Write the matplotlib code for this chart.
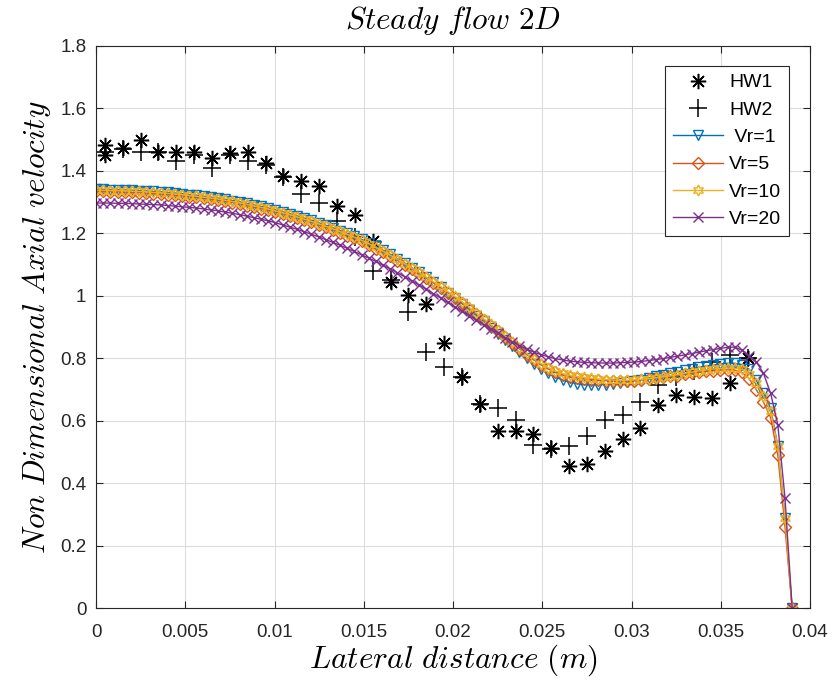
import numpy as np
import matplotlib.pyplot as plt

plt.rcParams['font.family'] = ['Liberation Sans', 'DejaVu Sans']
plt.rcParams['mathtext.fontset'] = 'cm'

# experimental data (hot wire)
hw1_x = [0.0005, 0.0005, 0.0015, 0.0025, 0.0035, 0.0045, 0.0055, 0.0065, 0.0075, 0.0085,
         0.0095, 0.0105, 0.0115, 0.0125, 0.0135, 0.0145, 0.0155, 0.0165, 0.0175, 0.0185,
         0.0195, 0.0205, 0.0215, 0.0225, 0.0235, 0.0245, 0.0255, 0.0265, 0.0275, 0.0285,
         0.0295, 0.0305, 0.0315, 0.0325, 0.0335, 0.0345, 0.0355, 0.0365]
hw1_y = [1.483, 1.451, 1.473, 1.499, 1.460, 1.460, 1.460, 1.441, 1.457, 1.460,
         1.425, 1.383, 1.367, 1.351, 1.287, 1.259, 1.175, 1.044, 1.003, 0.974,
         0.849, 0.740, 0.654, 0.567, 0.567, 0.558, 0.513, 0.455, 0.462, 0.503,
         0.542, 0.577, 0.650, 0.683, 0.676, 0.673, 0.721, 0.801]

hw2_x = [0.0005, 0.0015, 0.0025, 0.0035, 0.0045, 0.0055, 0.0065, 0.0075, 0.0085, 0.0095,
         0.0105, 0.0115, 0.0125, 0.0135, 0.0145, 0.0155, 0.0165, 0.0175, 0.0185, 0.0195,
         0.0205, 0.0215, 0.0225, 0.0235, 0.0245, 0.0255, 0.0265, 0.0275, 0.0285, 0.0295,
         0.0305, 0.0315, 0.0325, 0.0335, 0.0345, 0.0355, 0.0365]
hw2_y = [1.46, 1.47, 1.46, 1.46, 1.43, 1.45, 1.41, 1.45, 1.43, 1.42,
         1.38, 1.325, 1.297, 1.24, 1.188, 1.079, 1.05, 0.948, 0.820, 0.772,
         0.74, 0.655, 0.641, 0.603, 0.523, 0.51, 0.519, 0.551, 0.603, 0.619,
         0.660, 0.715, 0.74, 0.76, 0.788, 0.811, 0.80]

# simulations, 98 stations from 0 to 0.039 m
vr1 = [1.341, 1.341, 1.340, 1.340, 1.339, 1.338, 1.337, 1.336, 1.334, 1.333, 1.331, 1.329, 1.327,
       1.324, 1.322, 1.319, 1.316, 1.313, 1.309, 1.305, 1.301, 1.296, 1.291, 1.286, 1.281, 1.275,
       1.269, 1.263, 1.256, 1.249, 1.242, 1.234, 1.226, 1.218, 1.209, 1.200, 1.191, 1.181,
       1.170, 1.158, 1.146, 1.133, 1.119, 1.105, 1.090, 1.075, 1.059, 1.043, 1.027, 1.010, 0.993,
       0.975, 0.956, 0.937, 0.918, 0.898, 0.878, 0.858, 0.838, 0.819, 0.800, 0.782, 0.766,
       0.752, 0.740, 0.731, 0.724, 0.719, 0.716, 0.715, 0.715, 0.716, 0.718, 0.721, 0.724, 0.728,
       0.732, 0.737, 0.742, 0.747, 0.752, 0.757, 0.762, 0.767, 0.771, 0.775, 0.779, 0.782, 0.784, 0.784,
       0.780, 0.765, 0.73, 0.69, 0.64, 0.52, 0.29, 0.0]
vr5 = [1.334, 1.334, 1.333, 1.333, 1.332, 1.331, 1.330, 1.329, 1.327, 1.326, 1.324, 1.322, 1.320,
       1.317, 1.315, 1.312, 1.309, 1.306, 1.302, 1.298, 1.294, 1.289, 1.284, 1.279, 1.274, 1.268,
       1.262, 1.256, 1.249, 1.242, 1.235, 1.227, 1.219, 1.211, 1.202, 1.193, 1.184, 1.174,
       1.163, 1.151, 1.139, 1.126, 1.113, 1.099, 1.085, 1.071, 1.056, 1.041, 1.026, 1.010, 0.994,
       0.977, 0.959, 0.941, 0.923, 0.905, 0.886, 0.867, 0.848, 0.830, 0.812, 0.795, 0.779,
       0.766, 0.755, 0.747, 0.741, 0.737, 0.734, 0.732, 0.730, 0.729, 0.728, 0.728, 0.728, 0.729,
       0.731, 0.733, 0.736, 0.739, 0.742, 0.745, 0.749, 0.752, 0.755, 0.758, 0.760, 0.762, 0.763, 0.762,
       0.755, 0.735, 0.70, 0.66, 0.61, 0.49, 0.26, 0.0]
vr10 = [1.338, 1.338, 1.337, 1.337, 1.336, 1.335, 1.334, 1.333, 1.331, 1.330, 1.328, 1.326, 1.324,
        1.321, 1.319, 1.316, 1.313, 1.310, 1.306, 1.302, 1.298, 1.293, 1.288, 1.283, 1.278, 1.272,
        1.266, 1.260, 1.253, 1.246, 1.239, 1.231, 1.223, 1.215, 1.206, 1.197, 1.188, 1.178,
        1.167, 1.155, 1.143, 1.130, 1.117, 1.103, 1.089, 1.075, 1.060, 1.045, 1.030, 1.014, 0.998,
        0.981, 0.963, 0.945, 0.927, 0.909, 0.890, 0.871, 0.852, 0.834, 0.816, 0.799, 0.783,
        0.770, 0.760, 0.752, 0.746, 0.742, 0.739, 0.736, 0.734, 0.732, 0.731, 0.730, 0.730, 0.731,
        0.733, 0.735, 0.738, 0.741, 0.744, 0.748, 0.752, 0.756, 0.760, 0.763, 0.766, 0.768, 0.769, 0.768,
        0.765, 0.75, 0.72, 0.68, 0.63, 0.52, 0.29, 0.0]
vr20 = [1.297, 1.297, 1.297, 1.296, 1.296, 1.295, 1.294, 1.293, 1.292, 1.291, 1.289, 1.287, 1.285,
        1.283, 1.281, 1.278, 1.275, 1.272, 1.268, 1.264, 1.260, 1.255, 1.250, 1.245, 1.240, 1.234,
        1.227, 1.220, 1.213, 1.205, 1.197, 1.189, 1.180, 1.171, 1.162, 1.152, 1.142, 1.131,
        1.121, 1.110, 1.098, 1.086, 1.074, 1.061, 1.048, 1.035, 1.021, 1.007, 0.993, 0.979, 0.964,
        0.950, 0.936, 0.922, 0.908, 0.894, 0.880, 0.866, 0.853, 0.841, 0.830, 0.820, 0.812,
        0.805, 0.799, 0.795, 0.791, 0.789, 0.787, 0.786, 0.785, 0.785, 0.785, 0.786, 0.787, 0.788,
        0.790, 0.793, 0.796, 0.799, 0.803, 0.807, 0.811, 0.815, 0.820, 0.824, 0.828, 0.832, 0.835, 0.836,
        0.826, 0.807, 0.789, 0.752, 0.688, 0.587, 0.352, 0.0]

sim_x = np.linspace(0, 0.039, len(vr10))

fig = plt.figure(figsize=(8.32, 6.82), dpi=100)
ax = fig.add_axes([0.1154, 0.108, 0.8582, 0.8248])

ax.plot(hw1_x, hw1_y, linestyle='none', marker=(8, 2, 0), markersize=11,
        color='black', markeredgewidth=1.1, label='HW1')
ax.plot(hw2_x, hw2_y, linestyle='none', marker='+', markersize=13,
        color='black', markeredgewidth=1.1, label='HW2')

ax.plot(sim_x, vr1, color='#0072BD', lw=1, marker='v', markersize=7,
        markerfacecolor='none', label=' Vr=1')
ax.plot(sim_x, vr5, color='#D95319', lw=1, marker='D', markersize=6,
        markerfacecolor='none', label='Vr=5')
ax.plot(sim_x, vr10, color='#EDB120', lw=1, marker=(6, 1, 0), markersize=8,
        markerfacecolor='none', label='Vr=10')
ax.plot(sim_x, vr20, color='#7E2F8E', lw=1, marker='x', markersize=6.5,
        label='Vr=20')

ax.set_xlim(0, 0.04)
ax.set_ylim(0, 1.8)
ax.set_xticks(np.arange(0, 0.0401, 0.005))
ax.set_xticklabels(['0', '0.005', '0.01', '0.015', '0.02', '0.025', '0.03', '0.035', '0.04'])
ax.set_yticks(np.arange(0, 1.81, 0.2))
ax.set_yticklabels(['0', '0.2', '0.4', '0.6', '0.8', '1', '1.2', '1.4', '1.6', '1.8'])
ax.tick_params(direction='in', top=True, right=True, labelsize=13.5, length=5,
               colors='#262626', labelcolor='#262626')
ax.tick_params(axis='x', pad=11)
ax.tick_params(axis='y', pad=7)
ax.grid(True, color='#dcdcdc', linewidth=0.8)
ax.set_axisbelow(True)
for s in ax.spines.values():
    s.set_color('#262626')

ax.set_title(r'$Steady\ flow\ 2D$', fontsize=22.5, pad=12)
ax.set_xlabel(r'$Lateral\ distance\ (m)$', fontsize=22.5, labelpad=1)
ax.set_ylabel(r'$Non\ Dimensional\ Axial\ velocity$', fontsize=22.5, labelpad=5)

leg = ax.legend(loc='upper right', bbox_to_anchor=(0.9706, 0.9641), borderaxespad=0,
                fontsize=14, fancybox=False, edgecolor='#262626', framealpha=1,
                handlelength=2.6, handletextpad=0.3, borderpad=0.4, labelspacing=0.5)
leg.get_frame().set_linewidth(0.8)

fig.savefig('out.png', dpi=100)
